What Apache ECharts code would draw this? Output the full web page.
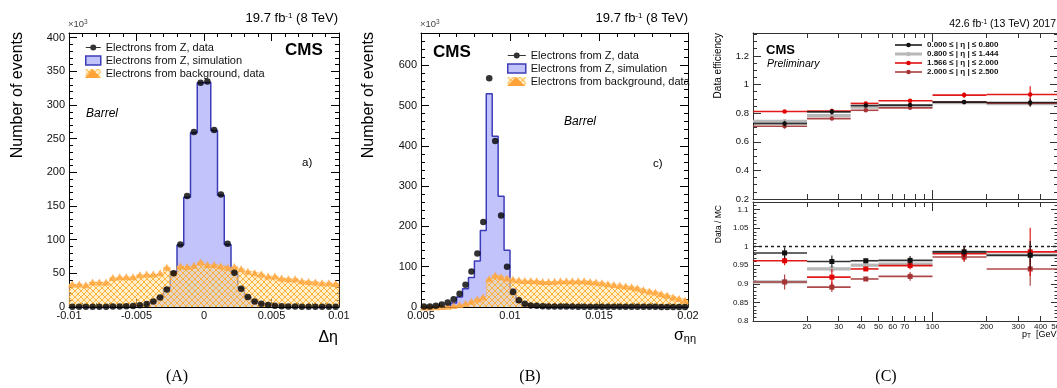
<!DOCTYPE html>
<html>
<head>
<meta charset="utf-8">
<title>Electron identification: Δη, σηη and efficiency vs pT</title>
<script src="https://cdn.jsdelivr.net/npm/echarts@6.0.0/dist/echarts.min.js"></script>
<style>
  html, body { margin: 0; padding: 0; background: #fff; }
  #chart { width: 1057px; height: 388px; }
</style>
</head>
<body>
<div id="chart"></div>
<script>
// ---------- (A) Δη, 40 bins on [-0.01, 0.01], events in thousands ----------
const detaRange = [-0.01, 0.01];
const detaZData = [0.3, 0.3, 0.3, 0.4, 0.4, 0.5, 0.6, 0.8, 1.0, 1.5, 2.5, 4.5, 8, 14, 26, 50,
                   93, 165, 260, 333, 335, 263, 167, 94,
                   51, 27, 15, 8, 5, 3, 2, 1.2, 0.8, 0.6, 0.5, 0.4, 0.3, 0.3, 0.3, 0.3];
const detaZSim  = [0.3, 0.3, 0.3, 0.4, 0.4, 0.5, 0.6, 0.8, 1.0, 1.5, 2.5, 4.5, 8, 15, 28, 52,
                   92, 163, 259, 333, 334, 262, 166, 93,
                   52, 28, 15, 8, 5, 3, 2, 1.2, 0.8, 0.6, 0.5, 0.4, 0.3, 0.3, 0.3, 0.3];
const detaBkg   = [34, 34, 33, 37, 37, 37, 44, 45, 45, 45, 48, 49, 49, 51, 59, 51,
                   61, 60, 62, 67, 63, 63, 61, 59,
                   60, 57, 53, 51, 49, 46, 46, 43, 42, 42, 39, 38, 37, 36, 36, 35];
const detaXTicks = [-0.01, -0.005, 0, 0.005, 0.01];
const detaYTicks = [0, 50, 100, 150, 200, 250, 300, 350, 400];
const detaYMax = 407;

// ---------- (B) σηη, 45 bins on [0.005, 0.02], events in thousands ----------
const sieieRange = [0.005, 0.02];
const sieieZData = [1, 1.5, 3, 6, 11, 19, 33, 55, 88, 133, 211, 568, 412, 227, 100, 37, 17, 8, 4, 3,
                    2, 1.5, 1.2, 1, 1, 1, 0.8, 0.8, 0.7, 0.7, 0.6, 0.6, 0.5, 0.5, 0.5, 0.5,
                    0.4, 0.4, 0.4, 0.4, 0.3, 0.3, 0.3, 0.3, 0.3];
const sieieZSim  = [0, 0, 0.5, 1, 3, 10, 25, 45, 73, 114, 190, 529, 424, 275, 141, 45, 12, 4, 2, 1,
                    0.8, 0.6, 0.5, 0.4, 0.4, 0.3, 0.3, 0.3, 0.2, 0.2, 0.2, 0.2, 0.2, 0.2,
                    0.1, 0.1, 0.1, 0.1, 0.1, 0.1, 0.1, 0.1, 0.1, 0.1, 0.1];
const sieieBkg   = [0, 0, 0.5, 1, 2, 4, 6, 9, 14, 20, 25, 70, 79, 75, 72, 69, 67, 66, 66, 65,
                    63, 63, 64, 65, 65, 65, 65, 65, 63, 62, 60, 58, 56, 54, 52, 50,
                    47, 43, 40, 37, 33, 29, 25, 21, 17];
const sieieXTicks = [0.005, 0.01, 0.015, 0.02];
const sieieYTicks = [0, 100, 200, 300, 400, 500, 600];
const sieieYMax = 680;

// ---------- (C) efficiency and data/MC vs pT in four |η| ranges ----------
const ptLow  = [10, 20, 35, 50, 100, 200];
const ptHigh = [20, 35, 50, 100, 200, 500];
const ptMean = [15, 27.5, 42.5, 75, 150, 350];
const etaBins = ['0.000 ≤ | η | ≤ 0.800', '0.800 ≤ | η | ≤ 1.444',
                 '1.566 ≤ | η | ≤ 2.000', '2.000 ≤ | η | ≤ 2.500'];
const effEta1 = [0.727, 0.809, 0.853, 0.856, 0.877, 0.874];
const effEta2 = [0.743, 0.783, 0.842, 0.850, 0.874, 0.866];
const effEta3 = [0.811, 0.815, 0.868, 0.887, 0.926, 0.930];
const effEta4 = [0.708, 0.762, 0.820, 0.837, 0.878, 0.870];
const effErr1 = [0.020, 0.020, 0.012, 0.012, 0.010, 0.030];
const effErr2 = [0.015, 0.015, 0.010, 0.010, 0.010, 0.020];
const effErr3 = [0.010, 0.015, 0.010, 0.010, 0.020, 0.058];
const effErr4 = [0.015, 0.010, 0.010, 0.010, 0.010, 0.020];
const sfEta1 = [0.983, 0.960, 0.962, 0.963, 0.986, 0.977];
const sfEta2 = [0.905, 0.940, 0.950, 0.953, 0.985, 0.977];
const sfEta3 = [0.962, 0.918, 0.940, 0.949, 0.981, 0.986];
const sfEta4 = [0.905, 0.891, 0.913, 0.920, 0.972, 0.940];
const sfErr1 = [0.015, 0.016, 0.004, 0.012, 0.013, 0.038];
const sfErr2 = [0.010, 0.008, 0.004, 0.008, 0.010, 0.020];
const sfErr3 = [0.012, 0.022, 0.005, 0.010, 0.020, 0.065];
const sfErr4 = [0.020, 0.013, 0.004, 0.012, 0.013, 0.045];
const ptLabelTicks = [20, 30, 40, 50, 60, 70, 100, 200, 300, 400, 500];
const ptMinorTicks = [20, 30, 40, 50, 60, 70, 80, 90, 200, 300, 400];
const ptMajorTicks = [100];
const effYTicks = [0.2, 0.4, 0.6, 0.8, 1, 1.2];
const sfYTicks = [0.8, 0.85, 0.9, 0.95, 1, 1.05, 1.1];

// ---------- styling ----------
const FONT = '"Liberation Sans", Arial, Helvetica, sans-serif';
const NAME_DATA = 'Electrons from Z, data';
const NAME_SIM = 'Electrons from Z, simulation';
const NAME_BKG = 'Electrons from background, data';
const SIM_FILL = '#c3c3fb';
const SIM_LINE = '#3c3cb8';
const BKG_MARK = '#ffa238';
const etaColors = ['#111111', '#b8b8b8', '#e00000', '#a53434'];

// orange cross-hatch used for the background histogram
function makeHatch() {
  const s = 6;
  const cv = document.createElement('canvas');
  cv.width = cv.height = s;
  const g = cv.getContext('2d');
  g.fillStyle = 'rgba(255,228,160,0.55)';
  g.fillRect(0, 0, s, s);
  g.strokeStyle = 'rgba(255,168,40,0.85)';
  g.lineWidth = 1;
  g.beginPath();
  for (const o of [-s, 0, s]) { g.moveTo(o, s); g.lineTo(o + s, 0); g.moveTo(o, 0); g.lineTo(o + s, s); }
  g.stroke();
  return cv;
}
const hatch = { image: makeHatch(), repeat: 'repeat' };

// tick positions between two values with a fixed step, skipping the given majors
function minorTicks(from, to, step, majors) {
  const out = [];
  const n = Math.round((to - from) / step);
  for (let i = 0; i <= n; i++) {
    const v = +(from + i * step).toFixed(6);
    if (!majors.some(m => Math.abs(m - v) < 1e-9)) out.push(v);
  }
  return out;
}

// four-sided frame: main axis (line, long ticks, labels) + mirrored side, each with a short-tick companion
const xAxes = [], yAxes = [];
function frameAxes(list, dim, grid, min, max, majors, minors, o) {
  const sides = dim === 'x' ? ['bottom', 'top'] : ['left', 'right'];
  let mainIndex = -1;
  sides.forEach((pos, si) => {
    const common = {
      type: 'value', gridIndex: grid, position: pos, min, max, silent: true,
      splitLine: { show: false }, minorTick: { show: false }, minorSplitLine: { show: false },
      axisPointer: { show: false }
    };
    if (si === 0) mainIndex = list.length;
    list.push(Object.assign({}, common, {
      axisLine: { show: true, onZero: false, lineStyle: { color: o.color, width: 1 } },
      axisTick: { show: true, inside: true, length: o.majorLen, customValues: majors,
                  lineStyle: { color: o.color, width: 1 } },
      axisLabel: (si === 0 && o.label) ? Object.assign({ show: true }, o.label) : { show: false }
    }));
    list.push(Object.assign({}, common, {
      axisLine: { show: false, onZero: false },
      axisTick: { show: true, inside: true, length: o.minorLen, customValues: minors,
                  lineStyle: { color: o.color, width: 1 } },
      axisLabel: { show: false }
    }));
  });
  return mainIndex;
}

const tickFont = { fontFamily: FONT, color: '#111' };

// (A)
const axAx = frameAxes(xAxes, 'x', 0, detaRange[0], detaRange[1], detaXTicks,
  minorTicks(detaRange[0], detaRange[1], 0.001, detaXTicks),
  { color: '#000', majorLen: 8, minorLen: 4,
    label: Object.assign({ customValues: detaXTicks, fontSize: 11, margin: 3 }, tickFont) });
const axAy = frameAxes(yAxes, 'y', 0, 0, detaYMax, detaYTicks,
  minorTicks(0, 400, 10, detaYTicks),
  { color: '#000', majorLen: 8, minorLen: 4,
    label: Object.assign({ customValues: detaYTicks, fontSize: 11, margin: 4 }, tickFont) });
// (B)
const axBx = frameAxes(xAxes, 'x', 1, sieieRange[0], sieieRange[1], sieieXTicks,
  minorTicks(sieieRange[0], sieieRange[1], 0.001, sieieXTicks),
  { color: '#000', majorLen: 8, minorLen: 4,
    label: Object.assign({ customValues: sieieXTicks, fontSize: 11, margin: 3 }, tickFont) });
const axBy = frameAxes(yAxes, 'y', 1, 0, sieieYMax, sieieYTicks,
  minorTicks(0, 660, 20, sieieYTicks),
  { color: '#000', majorLen: 8, minorLen: 4,
    label: Object.assign({ customValues: sieieYTicks, fontSize: 11, margin: 4 }, tickFont) });
// (C) efficiency panel
const logPt = v => Math.log10(v);
const ptMin = logPt(10), ptMax = logPt(500);
const axC1x = frameAxes(xAxes, 'x', 2, ptMin, ptMax, ptMajorTicks.map(logPt), ptMinorTicks.map(logPt),
  { color: '#333', majorLen: 9, minorLen: 5, label: null });
const axC1y = frameAxes(yAxes, 'y', 2, 0.2, 1.36, effYTicks, minorTicks(0.2, 1.35, 0.05, effYTicks),
  { color: '#333', majorLen: 8, minorLen: 4,
    label: Object.assign({ customValues: effYTicks, fontSize: 9.5, margin: 4 }, tickFont) });
// (C) data/MC panel
const axC2x = frameAxes(xAxes, 'x', 3, ptMin, ptMax, ptMajorTicks.map(logPt), ptMinorTicks.map(logPt),
  { color: '#333', majorLen: 9, minorLen: 5,
    label: Object.assign({ customValues: ptLabelTicks.map(logPt), fontSize: 8, margin: 2,
      formatter: v => String(Math.round(Math.pow(10, v))) }, tickFont) });
const axC2y = frameAxes(yAxes, 'y', 3, 0.8, 1.12, sfYTicks, minorTicks(0.8, 1.12, 0.01, sfYTicks),
  { color: '#333', majorLen: 7, minorLen: 3.5,
    label: Object.assign({ customValues: sfYTicks, fontSize: 8, margin: 4.5 }, tickFont) });

// histogram outline: left edge of every bin, closed to zero at both ends (drawn with step 'end')
function histogramPoints(range, vals) {
  const w = (range[1] - range[0]) / vals.length;
  const pts = [[range[0], 0]];
  vals.forEach((v, i) => pts.push([range[0] + i * w, v]));
  pts.push([range[1], 0]);
  return pts;
}
function binCentres(range, vals) {
  const w = (range[1] - range[0]) / vals.length;
  return vals.map((v, i) => [range[0] + (i + 0.5) * w, v]);
}

function histSeries(xi, yi, range, zData, zSim, bkg) {
  return [
    { type: 'line', name: NAME_SIM, xAxisIndex: xi, yAxisIndex: yi, data: histogramPoints(range, zSim),
      step: 'end', symbol: 'none', silent: true, z: 2,
      lineStyle: { color: SIM_LINE, width: 1.5 }, areaStyle: { color: SIM_FILL, opacity: 1 } },
    { type: 'line', name: NAME_BKG, xAxisIndex: xi, yAxisIndex: yi, data: histogramPoints(range, bkg),
      step: 'end', symbol: 'none', silent: true, z: 3,
      lineStyle: { color: '#ffb24d', width: 0.8, opacity: 0.6 }, areaStyle: { color: hatch, opacity: 1 } },
    { type: 'scatter', name: NAME_BKG, xAxisIndex: xi, yAxisIndex: yi, data: binCentres(range, bkg),
      symbol: 'triangle', symbolSize: [8, 7], silent: true, z: 4, itemStyle: { color: BKG_MARK } },
    { type: 'scatter', name: NAME_DATA, xAxisIndex: xi, yAxisIndex: yi, data: binCentres(range, zData),
      symbol: 'circle', symbolSize: 6.5, silent: true, z: 5, itemStyle: { color: '#000' } }
  ];
}

// one |η| range: horizontal bin bar, vertical error bar and marker at the bin mean
function binSeries(name, xi, yi, vals, errs, st) {
  const data = vals.map((v, i) => [logPt(ptLow[i]), logPt(ptHigh[i]), v, errs[i], logPt(ptMean[i])]);
  return {
    type: 'custom', name, xAxisIndex: xi, yAxisIndex: yi, data, clip: true, silent: true,
    encode: { x: [0, 1, 4], y: [2] },
    itemStyle: { color: st.color },
    renderItem: (params, api) => {
      const v = api.value(2), e = api.value(3), c = api.value(4);
      const a = api.coord([api.value(0), v]), b = api.coord([api.value(1), v]);
      const m = api.coord([c, v]), t = api.coord([c, v + e]), d = api.coord([c, v - e]);
      const s = st.size;
      const kids = [
        { type: 'line', shape: { x1: a[0], y1: a[1], x2: b[0], y2: b[1] },
          style: { stroke: st.color, lineWidth: st.width, opacity: st.opacity } },
        { type: 'line', shape: { x1: t[0], y1: t[1], x2: d[0], y2: d[1] },
          style: { stroke: st.color, lineWidth: 1.2, opacity: st.opacity } },
        st.square
          ? { type: 'rect', shape: { x: m[0] - s / 2, y: m[1] - s / 2, width: s, height: s }, style: { fill: st.color } }
          : { type: 'circle', shape: { cx: m[0], cy: m[1], r: s / 2 }, style: { fill: st.color } }
      ];
      return { type: 'group', children: kids };
    }
  };
}

const etaStyle = [
  { color: etaColors[0], width: 1.6, opacity: 0.85 },
  { color: etaColors[1], width: 3.2, opacity: 1 },
  { color: etaColors[2], width: 1.6, opacity: 0.9 },
  { color: etaColors[3], width: 1.6, opacity: 0.9 }
];
const effVals = [effEta1, effEta2, effEta3, effEta4];
const effErrs = [effErr1, effErr2, effErr3, effErr4];
const sfVals = [sfEta1, sfEta2, sfEta3, sfEta4];
const sfErrs = [sfErr1, sfErr2, sfErr3, sfErr4];
const drawOrder = [1, 3, 2, 0];

const effSeries = drawOrder.map(k => binSeries(etaBins[k], axC1x, axC1y, effVals[k], effErrs[k],
  Object.assign({ size: 4.5, square: false }, etaStyle[k])));
const sfSeries = drawOrder.map(k => binSeries(etaBins[k], axC2x, axC2y, sfVals[k], sfErrs[k],
  Object.assign({ size: 5, square: true }, etaStyle[k])));
sfSeries[0].markLine = {
  silent: true, symbol: 'none', animation: false, label: { show: false },
  lineStyle: { color: '#222', width: 1.3, type: [3, 3] },
  data: [{ yAxis: 1 }]
};

// legends
function histLegends(left, top, w) {
  const dataIcon = `path://M0,2.5 L${w},2.5 L${w},3.5 L0,3.5 Z M${w / 2},0 A3,3 0 1,1 ${w / 2 - 0.01},0 Z`;
  const base = { left, top, orient: 'vertical', itemWidth: w, itemHeight: 9, itemGap: 2,
                 padding: 0, selectedMode: false };
  return [
    Object.assign({}, base, {
      textStyle: { fontFamily: FONT, fontSize: 11, color: '#111' },
      data: [
        { name: NAME_DATA, icon: dataIcon, itemStyle: { color: '#000', borderWidth: 0 } },
        { name: NAME_SIM, icon: 'rect', itemStyle: { color: SIM_FILL, borderColor: SIM_LINE, borderWidth: 1.5 } },
        { name: NAME_BKG, icon: 'rect', itemStyle: { color: hatch, borderWidth: 0 } }
      ]
    }),
    // markers drawn on top of the hatched box
    Object.assign({}, base, {
      textStyle: { fontFamily: FONT, fontSize: 11, color: 'rgba(0,0,0,0)' },
      data: [
        { name: NAME_DATA, icon: 'none' },
        { name: NAME_SIM, icon: 'none' },
        { name: NAME_BKG, icon: 'triangle', itemStyle: { color: BKG_MARK, borderWidth: 0 } }
      ]
    })
  ];
}
const thinIcon = 'path://M0,3.3 L28,3.3 L28,4.7 L0,4.7 Z M14,1.6 A2.4,2.4 0 1,1 13.99,1.6 Z';
const thickIcon = 'path://M0,2.4 L28,2.4 L28,5.6 L0,5.6 Z M14,1.6 A2.4,2.4 0 1,1 13.99,1.6 Z';
const etaLegend = {
  left: 895, top: 41, orient: 'vertical', itemWidth: 27, itemHeight: 7, itemGap: 1,
  padding: 0, selectedMode: false,
  textStyle: { fontFamily: FONT, fontSize: 8, fontWeight: 'bold', color: '#111' },
  data: etaBins.map((n, i) => ({ name: n, icon: i === 1 ? thickIcon : thinIcon,
                                 itemStyle: { color: etaColors[i], borderWidth: 0 } }))
};

// text annotations
function txt(x, y, text, size, extra) {
  return Object.assign({ type: 'text', x, y, silent: true, z: 100,
    style: Object.assign({ text, fontFamily: FONT, fontSize: size, fill: '#000',
                           align: 'left', verticalAlign: 'middle' }, extra && extra.style) },
    extra && extra.el);
}
const supRich = s => ({ s: { fontFamily: FONT, fontSize: s, verticalAlign: 'top', lineHeight: s } });
const subRich = s => ({ sub: { fontFamily: FONT, fontSize: s, verticalAlign: 'bottom', lineHeight: s } });
const up = Math.PI / 2;

const texts = [
  // (A)
  txt(338, 18, '19.7 fb{s|-1} (8 TeV)', 13, { style: { align: 'right', rich: supRich(8) } }),
  txt(68, 24, '×10{s|3}', 9.5, { style: { fill: '#444', rich: supRich(6.5) } }),
  txt(17.5, 32, 'Number of events', 16, { el: { rotation: up }, style: { align: 'right' } }),
  txt(285, 50, 'CMS', 17, { style: { fontWeight: 'bold' } }),
  txt(86, 114, 'Barrel', 12, { style: { fontStyle: 'italic' } }),
  txt(302, 163, 'a)', 11.5),
  txt(338, 338, 'Δη', 16, { style: { align: 'right' } }),
  // (B)
  txt(688, 18, '19.7 fb{s|-1} (8 TeV)', 13, { style: { align: 'right', rich: supRich(8) } }),
  txt(420, 24, '×10{s|3}', 9.5, { style: { fill: '#444', rich: supRich(6.5) } }),
  txt(369, 32, 'Number of events', 16, { el: { rotation: up }, style: { align: 'right' } }),
  txt(433, 52, 'CMS', 17, { style: { fontWeight: 'bold' } }),
  txt(564, 122, 'Barrel', 12, { style: { fontStyle: 'italic' } }),
  txt(653, 164, 'c)', 11.5),
  txt(696, 336, 'σ{sub|ηη}', 16, { style: { align: 'right', rich: subRich(11) } }),
  // (C)
  txt(1056, 24, '42.6 fb{s|-1} (13 TeV) 2017', 10.5, { style: { align: 'right', rich: supRich(6.5) } }),
  txt(766, 50, 'CMS', 13, { style: { fontWeight: 'bold' } }),
  txt(767, 64, 'Preliminary', 10.5, { style: { fontStyle: 'italic' } }),
  txt(718.5, 33, 'Data efficiency', 10, { el: { rotation: up }, style: { align: 'right' } }),
  txt(719, 205, 'Data / MC', 8.5, { el: { rotation: up }, style: { align: 'right' } }),
  txt(1022, 335, 'p{sub|T}  [GeV]', 9, { style: { rich: subRich(6.5) } }),
  // sub-figure captions
  txt(177, 377, '(A)', 16, { style: { align: 'center', fontFamily: '"Liberation Serif", "DejaVu Serif", serif' } }),
  txt(530, 377, '(B)', 16, { style: { align: 'center', fontFamily: '"Liberation Serif", "DejaVu Serif", serif' } }),
  txt(886, 377, '(C)', 16, { style: { align: 'center', fontFamily: '"Liberation Serif", "DejaVu Serif", serif' } })
];

const chart = echarts.init(document.getElementById('chart'), null, { renderer: 'canvas', width: 1057, height: 388 });
chart.setOption({
  animation: false,
  backgroundColor: '#fff',
  tooltip: { show: false },
  grid: [
    { left: 69, top: 33, width: 270, height: 274, containLabel: false, outerBoundsMode: 'none' },
    { left: 421, top: 33, width: 267, height: 274, containLabel: false, outerBoundsMode: 'none' },
    { left: 753, top: 33, width: 305, height: 166, containLabel: false, outerBoundsMode: 'none' },
    { left: 753, top: 202, width: 305, height: 119, containLabel: false, outerBoundsMode: 'none' }
  ],
  xAxis: xAxes,
  yAxis: yAxes,
  legend: [...histLegends(85, 42, 15), ...histLegends(507, 50, 18), etaLegend],
  series: [
    ...histSeries(axAx, axAy, detaRange, detaZData, detaZSim, detaBkg),
    ...histSeries(axBx, axBy, sieieRange, sieieZData, sieieZSim, sieieBkg),
    ...effSeries,
    ...sfSeries
  ],
  graphic: texts
});
</script>
</body>
</html>
